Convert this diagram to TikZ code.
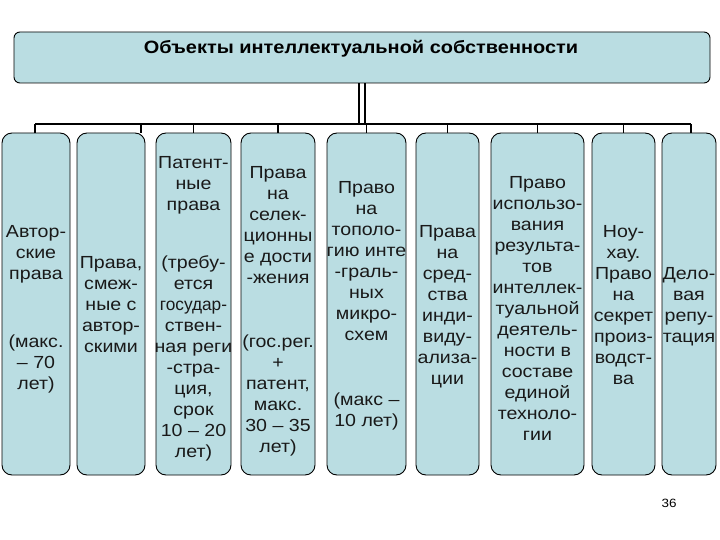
\documentclass[tikz,border=0pt]{standalone}
\usepackage{fontspec}
\setmainfont[FakeStretch=1.12]{Liberation Sans}
\begin{document}
\begin{tikzpicture}[x=1pt,y=-1pt,
  box/.style={draw=black,line width=0.9pt,fill=boxfill,rounded corners=10pt,inner sep=0pt},
  txt/.style={font=\fontsize{17.5}{21}\selectfont,align=center,inner sep=0pt,anchor=north,text=black!90},
  conn/.style={draw=black,line width=1.4pt}]
\definecolor{boxfill}{HTML}{BADDE2}
\useasboundingbox (0,0) rectangle (720,540);
\fill[white] (0,0) rectangle (720,540);
% title
\node[box,rounded corners=6pt,minimum width=696pt,minimum height=51pt] (top) at (362,57.5) {};
\node[font=\bfseries\fontsize{17.8}{21}\selectfont,inner sep=0pt] (title) at (361,49) {Объекты интеллектуальной собственности};
% columns
\node[box,minimum width=68pt,minimum height=342pt] (c1) at (36,304) {};
\node[box,minimum width=68pt,minimum height=342pt] (c2) at (111,304) {};
\node[box,minimum width=75pt,minimum height=342pt] (c3) at (193.5,304) {};
\node[box,minimum width=74pt,minimum height=342pt] (c4) at (278,304) {};
\node[box,minimum width=79pt,minimum height=342pt] (c5) at (366.5,304) {};
\node[box,minimum width=63pt,minimum height=342pt] (c6) at (447.5,304) {};
\node[box,minimum width=93pt,minimum height=342pt] (c7) at (537.5,304) {};
\node[box,minimum width=63pt,minimum height=342pt] (c8) at (623.5,304) {};
\node[box,minimum width=54pt,minimum height=342pt] (c9) at (689,304) {};
% connectors
\coordinate (busL) at (35,124);
\coordinate (busR) at (691,124);
\draw[conn] (busL) -- (busR);
\draw[conn] ([xshift=-3pt]top.south) -- ([xshift=-3pt]top.south |- busL);
\draw[conn] ([xshift=3pt]top.south) -- ([xshift=3pt]top.south |- busL);
\draw[conn] (busL) -- (busL |- c1.north);
\draw[conn] (141,124) -- (141,133);
\draw[conn] (c3.north |- busL) -- (c3.north);
\draw[conn] (c4.north |- busL) -- (c4.north);
\draw[conn] (c5.north |- busL) -- (c5.north);
\draw[conn] (c6.north |- busL) -- (c6.north);
\draw[conn] (c7.north |- busL) -- (c7.north);
\draw[conn] (c8.north |- busL) -- (c8.north);
\draw[conn] (busR) -- (busR |- c9.north);
% texts
\node[txt] (t1a) at (36,223) {\strut Автор-\\ские\\права};
\node[txt] (t1b) at (36,333) {\strut (макс.\\– 70\\лет)};
\node[txt] (t2) at (111,254) {\strut Права,\\смеж-\\ные с\\автор-\\скими};
\node[txt] (t3a) at (193.5,154) {\strut Патент-\\ные\\права};
\node[txt] (t3b) at (193.5,254) {\strut (требу-\\ется\\\scalebox{0.88}[1]{государ-}\\ствен-\\ная реги\\-стра-\\ция,\\срок\\10 – 20\\лет)};
\node[txt] (t4a) at (278,164) {\strut Права\\на\\селек-\\ционны\\е дости\\-жения};
\node[txt] (t4b) at (278,333) {\strut (гос.рег.\\+\\патент,\\макс.\\30 – 35\\лет)};
\node[txt] (t5a) at (366.5,179) {\strut Право\\на\\тополо-\\гию инте\\-граль-\\ных\\микро-\\схем};
\node[txt] (t5b) at (366.5,391) {\strut (макс –\\10 лет)};
\node[txt] (t6) at (447.5,223) {\strut Права\\на\\сред-\\ства\\инди-\\виду-\\ализа-\\ции};
\node[txt] (t7) at (537.5,174) {\strut Право\\использо-\\вания\\результа-\\тов\\интеллек-\\туальной\\деятель-\\ности в\\составе\\единой\\техноло-\\гии};
\node[txt] (t8) at (623.5,223) {\strut Ноу-\\хау.\\Право\\на\\секрет\\произ-\\водст-\\ва};
\node[txt] (t9) at (689,265) {\strut Дело-\\вая\\репу-\\тация};
\node[font=\fontsize{12}{14}\selectfont,inner sep=0pt] (pg) at (669,503) {36};
\end{tikzpicture}
\end{document}
